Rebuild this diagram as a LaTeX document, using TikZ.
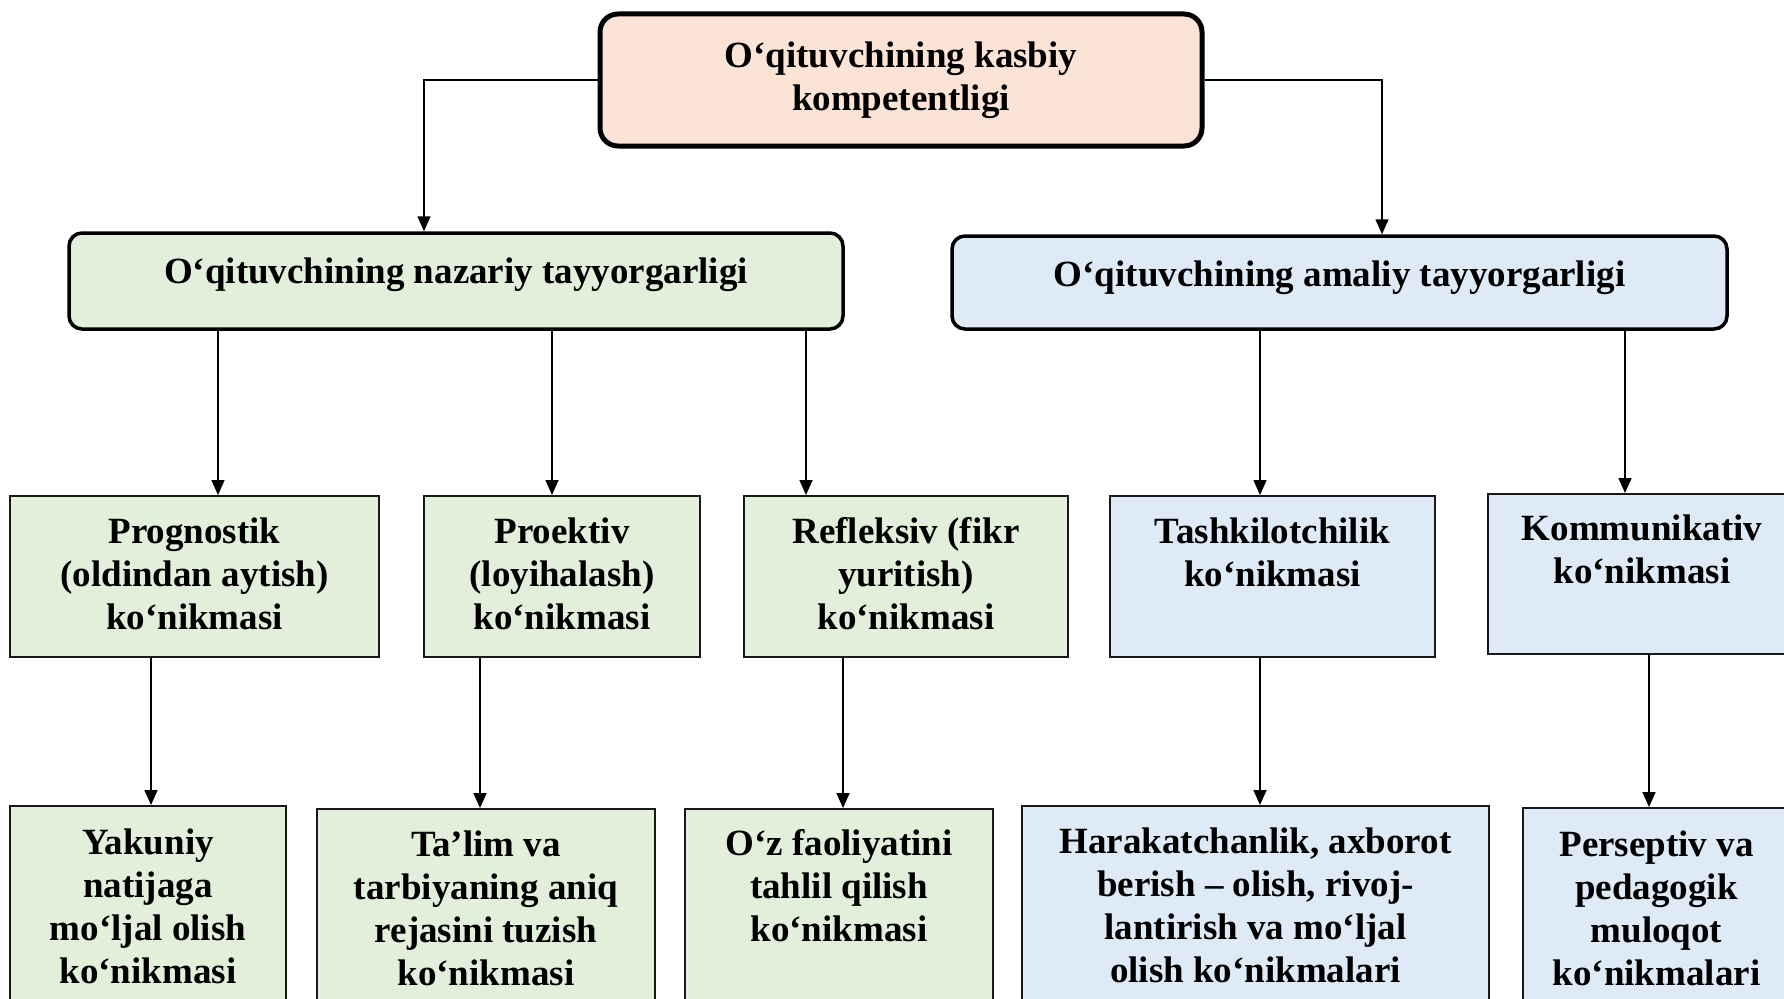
\documentclass[tikz,border=0pt]{standalone}
\usepackage{fontspec}
\setmainfont{Liberation Serif}
\usetikzlibrary{arrows.meta}
\definecolor{peach}{RGB}{251,228,213}
\definecolor{lgreen}{RGB}{226,239,218}
\definecolor{lblue}{RGB}{222,235,247}
\tikzset{
  topbox/.style={draw=black, line width=5pt, rounded corners=18pt, fill=peach, inner sep=0pt},
  midbox/.style={draw=black, line width=3.5pt, rounded corners=13pt, inner sep=0pt},
  sqbox/.style={draw=black!90, line width=2pt, inner sep=0pt},
  txt/.style={font=\bfseries\fontsize{37}{43}\selectfont, align=center, inner sep=0pt, anchor=north},
  arr/.style={line width=1.6pt, -{Triangle[length=15pt,width=13pt]}},
}
\newcommand{\st}{\strut}
\begin{document}
\begin{tikzpicture}[x=1pt,y=-1pt]
\useasboundingbox (0,0) rectangle (1784,998);
\fill[white] (0,0) rectangle (1784,998);
\clip (0,0) rectangle (1784,998);

% boxes
\node[topbox, minimum width=602pt, minimum height=132pt] (top) at (901,80) {};
\node[midbox, fill=lgreen, minimum width=774pt, minimum height=96pt] (midL) at (456,281) {};
\node[midbox, fill=lblue, minimum width=775pt, minimum height=93pt] (midR) at (1339.5,282.5) {};

\node[sqbox, fill=lgreen, minimum width=369pt, minimum height=161pt] (p1) at (194.5,576.5) {};
\node[sqbox, fill=lgreen, minimum width=276pt, minimum height=161pt] (p2) at (562,576.5) {};
\node[sqbox, fill=lgreen, minimum width=324pt, minimum height=161pt] (p3) at (906,576.5) {};
\node[sqbox, fill=lblue, minimum width=325pt, minimum height=161pt] (p4) at (1272.5,576.5) {};
\node[sqbox, fill=lblue, minimum width=308pt, minimum height=160pt] (p5) at (1642,574) {};

\node[sqbox, fill=lgreen, minimum width=276pt, minimum height=234pt] (b1) at (148,923) {};
\node[sqbox, fill=lgreen, minimum width=338pt, minimum height=231pt] (b2) at (486,924.5) {};
\node[sqbox, fill=lgreen, minimum width=308pt, minimum height=231pt] (b3) at (839,924.5) {};
\node[sqbox, fill=lblue, minimum width=467pt, minimum height=234pt] (b4) at (1255.5,923) {};
\node[sqbox, fill=lblue, minimum width=267pt, minimum height=232pt] (b5) at (1656.5,924) {};

% texts
\node[txt] (topT) at ([yshift=-26pt]top.north) {\st O‘qituvchining kasbiy\\kompetentligi};
\node[txt] (midLT) at ([yshift=-22pt]midL.north) {\st O‘qituvchining nazariy tayyorgarligi};
\node[txt] (midRT) at ([yshift=-22pt]midR.north) {\st O‘qituvchining amaliy tayyorgarligi};

\node[txt] (p1T) at ([yshift=-18pt]p1.north) {\st Prognostik\\(oldindan aytish)\\ko‘nikmasi};
\node[txt] (p2T) at ([yshift=-18pt]p2.north) {\st Proektiv\\(loyihalash)\\ko‘nikmasi};
\node[txt] (p3T) at ([yshift=-18pt]p3.north) {\st Refleksiv (fikr\\yuritish)\\ko‘nikmasi};
\node[txt] (p4T) at ([yshift=-18pt]p4.north) {\st Tashkilotchilik\\ko‘nikmasi};
\node[txt] (p5T) at ([yshift=-17pt]p5.north) {\st Kommunikativ\\ko‘nikmasi};

\node[txt] (b1T) at ([yshift=-19pt]b1.north) {\st Yakuniy\\natijaga\\mo‘ljal olish\\ko‘nikmasi};
\node[txt] (b2T) at ([yshift=-18pt]b2.north) {\st Ta’lim va\\tarbiyaning aniq\\rejasini tuzish\\ko‘nikmasi};
\node[txt] (b3T) at ([yshift=-17pt]b3.north) {\st O‘z faoliyatini\\tahlil qilish\\ko‘nikmasi};
\node[txt] (b4T) at ([yshift=-18pt]b4.north) {\st Harakatchanlik, axborot\\berish – olish, rivoj-\\lantirish va mo‘ljal\\olish ko‘nikmalari};
\node[txt] (b5T) at ([yshift=-19pt]b5.north) {\st Perseptiv va\\pedagogik\\muloqot\\ko‘nikmalari};

% connector x positions
\coordinate (xL) at (424,0);
\coordinate (xR) at (1382,0);
\coordinate (a1) at (218,0);
\coordinate (a2) at (552,0);
\coordinate (a3) at (806,0);
\coordinate (a4) at (1260,0);
\coordinate (a5) at (1625,0);
\coordinate (d1) at (151,0);
\coordinate (d2) at (480,0);
\coordinate (d3) at (843,0);
\coordinate (d4) at (1260,0);
\coordinate (d5) at (1649,0);

% connectors
\draw[arr] (top.west) -| (midL.north -| xL);
\draw[arr] (top.east) -| (midR.north -| xR);

\draw[arr] (midL.south -| a1) -- (p1.north -| a1);
\draw[arr] (midL.south -| a2) -- (p2.north -| a2);
\draw[arr] (midL.south -| a3) -- (p3.north -| a3);
\draw[arr] (midR.south -| a4) -- (p4.north -| a4);
\draw[arr] (midR.south -| a5) -- (p5.north -| a5);

\draw[arr] (p1.south -| d1) -- (b1.north -| d1);
\draw[arr] (p2.south -| d2) -- (b2.north -| d2);
\draw[arr] (p3.south -| d3) -- (b3.north -| d3);
\draw[arr] (p4.south -| d4) -- (b4.north -| d4);
\draw[arr] (p5.south -| d5) -- (b5.north -| d5);
\end{tikzpicture}
\end{document}
